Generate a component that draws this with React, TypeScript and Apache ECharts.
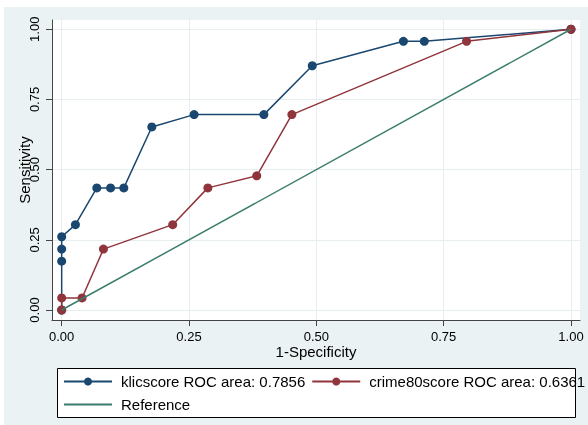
import React, { useEffect, useRef } from "react";
import * as echarts from "echarts";

const tickValues = [0, 0.25, 0.5, 0.75, 1];

const klicName = "klicscore ROC area: 0.7856";
const crimeName = "crime80score ROC area: 0.6361";
const refName = "Reference";

const klicX = [0, 0, 0, 0, 0.027, 0.069, 0.096, 0.122, 0.177, 0.26, 0.397, 0.492, 0.671, 0.712, 1];
const klicY = [0, 0.174, 0.217, 0.261, 0.304, 0.435, 0.435, 0.435, 0.652, 0.696, 0.696, 0.87, 0.957, 0.957, 1];

const crimeX = [0, 0, 0.04, 0.082, 0.218, 0.287, 0.383, 0.452, 0.795, 1];
const crimeY = [0, 0.043, 0.043, 0.217, 0.304, 0.435, 0.478, 0.696, 0.957, 1];

const refX = [0, 1];
const refY = [0, 1];

const BLUE = "#1a476f";
const RED = "#90353b";
const GREEN = "#3a7d6c";
const FONT = "Liberation Sans, Arial, sans-serif";

const zip = (xs: number[], ys: number[]) => xs.map((x, i) => [x, ys[i]]);

export default function App() {
  const ref = useRef<HTMLDivElement>(null);
  useEffect(() => {
    if (!ref.current) return;
    const chart = echarts.init(ref.current, undefined, { renderer: "svg" });
    const fmt = (v: number) => v.toFixed(2);
    chart.setOption({
      animation: false,
      textStyle: { fontFamily: FONT },
      graphic: [
        {
          type: "rect",
          z: -100,
          silent: true,
          shape: { x: 4, y: 7, width: 584, height: 418 },
          style: { fill: "#eaf2f3" },
        },
        {
          type: "rect",
          z: 1,
          silent: true,
          shape: { x: 57.5, y: 368.5, width: 518, height: 49 },
          style: { fill: "#ffffff", stroke: "#000000", lineWidth: 1 },
        },
      ],
      grid: {
        left: 52,
        top: 20,
        width: 528,
        height: 300,
        show: true,
        backgroundColor: "#ffffff",
        borderWidth: 0,
        z: 0,
      },
      legend: {
        z: 10,
        left: 63,
        top: 373,
        width: 525,
        padding: 0,
        itemGap: 6,
        itemWidth: 48,
        itemHeight: 10,
        textStyle: { fontSize: 15, color: "#000", fontFamily: FONT, lineHeight: 17, padding: [0, 0, 0, 4] },
        data: [
          klicName,
          crimeName,
          { name: refName, itemStyle: { opacity: 0, color: "rgba(0,0,0,0)", borderWidth: 0 } },
        ],
      },
      xAxis: {
        type: "value",
        min: -0.019,
        max: 1.0177,
        name: "1-Specificity",
        nameLocation: "middle",
        nameGap: 24,
        nameMoveOverlap: false,
        nameTextStyle: { fontSize: 15, color: "#000", fontFamily: FONT },
        axisLine: { show: true, onZero: false, lineStyle: { color: "#444", width: 1 } },
        axisTick: { show: true, length: 6, customValues: tickValues, lineStyle: { color: "#444" } },
        axisLabel: { customValues: tickValues, formatter: fmt, fontSize: 13, color: "#000", margin: 10 },
        splitLine: { show: true, lineStyle: { color: "#e6eef0", width: 1 } },
      },
      yAxis: {
        type: "value",
        min: -0.0356,
        max: 1.033,
        name: "Sensitivity",
        nameLocation: "middle",
        nameGap: 20,
        nameMoveOverlap: false,
        nameTextStyle: { fontSize: 15, color: "#000", fontFamily: FONT },
        axisLine: { show: true, onZero: false, lineStyle: { color: "#444", width: 1 } },
        axisTick: { show: true, length: 6, customValues: tickValues, lineStyle: { color: "#444" } },
        axisLabel: { customValues: tickValues, formatter: fmt, fontSize: 13, color: "#000", margin: 11, rotate: 90 },
        splitLine: { show: true, lineStyle: { color: "#e6eef0", width: 1 } },
      },
      series: [
        {
          name: klicName,
          type: "line",
          data: zip(klicX, klicY),
          symbol: "circle",
          symbolSize: 9,
          color: BLUE,
          lineStyle: { color: BLUE, width: 1.5 },
          itemStyle: { color: BLUE },
          z: 2,
        },
        {
          name: crimeName,
          type: "line",
          data: zip(crimeX, crimeY),
          symbol: "circle",
          symbolSize: 9,
          color: RED,
          lineStyle: { color: RED, width: 1.5 },
          itemStyle: { color: RED },
          z: 3,
        },
        {
          name: refName,
          type: "line",
          data: zip(refX, refY),
          showSymbol: false,
          symbol: "none",
          color: GREEN,
          lineStyle: { color: GREEN, width: 1.5 },
          z: 4,
        },
      ],
    });
    return () => chart.dispose();
  }, []);
  return <div ref={ref} style={{ position: "fixed", left: 0, top: 0, width: 588, height: 425 }} />;
}
